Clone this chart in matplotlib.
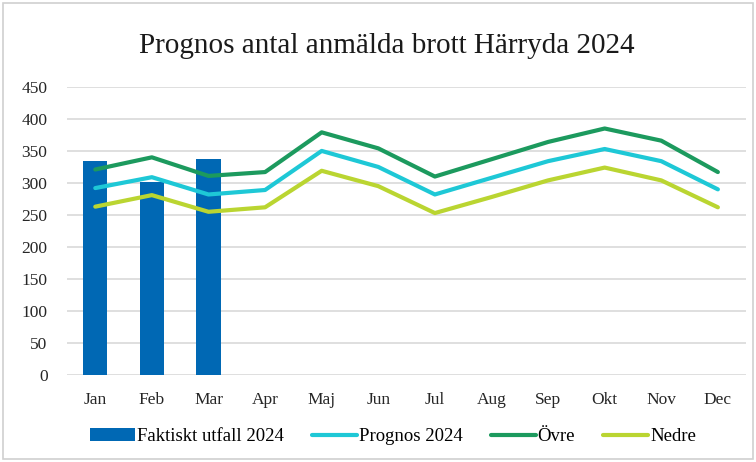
import numpy as np
import matplotlib.pyplot as plt
from matplotlib.patches import Rectangle

months = ['Jan', 'Feb', 'Mar', 'Apr', 'Maj', 'Jun', 'Jul', 'Aug', 'Sep', 'Okt', 'Nov', 'Dec']
utfall = [335, 302, 338]
prognos = [292, 309, 282, 289, 350, 325, 282, 308, 334, 353, 334, 290]
ovre = [321, 340, 311, 317, 379, 354, 310, 337, 364, 385, 366, 317]
nedre = [263, 281, 255, 262, 319, 295, 253, 278, 304, 324, 304, 262]

plt.rcParams['font.family'] = ['Liberation Serif', 'DejaVu Serif']

fig = plt.figure(figsize=(7.56, 4.62), dpi=100)
ax = fig.add_axes([0.0886, 0.188, 0.8984, 0.624])

x = np.arange(len(months))
b = ax.bar(x[:len(utfall)], utfall, width=0.43, color='#0068B4', label='Faktiskt utfall 2024', zorder=2)
l1, = ax.plot(x, prognos, color='#1EC8D6', lw=3, label='Prognos 2024', zorder=3, solid_capstyle='round')
l2, = ax.plot(x, ovre, color='#1C9A5E', lw=3, label='Övre', zorder=3, solid_capstyle='round')
l3, = ax.plot(x, nedre, color='#BAD531', lw=3, label='Nedre', zorder=3, solid_capstyle='round')

ax.set_xlim(-0.5, 11.5)
ax.set_ylim(0, 450)
ax.set_yticks(np.arange(0, 451, 50))
ax.set_xticks(x)
ax.set_xticklabels(months)
ax.tick_params(axis='both', length=0, labelsize=12.5, colors='#262626')
ax.tick_params(axis='x', pad=12)
ax.tick_params(axis='y', pad=14)
ax.grid(axis='y', color='#D9D9D9', lw=1.2, zorder=0)
for s in ax.spines.values():
    s.set_visible(False)

fig.text(0.512, 0.9, 'Prognos antal anmälda brott Härryda 2024', ha='center', va='center',
         fontsize=21, color='#1a1a1a')

fig.legend([b, l1, l2, l3], ['Faktiskt utfall 2024', 'Prognos 2024', 'Övre', 'Nedre'],
           loc='center', bbox_to_anchor=(0.52, 0.055), ncol=4, frameon=False,
           fontsize=13.5, handlelength=2.4, handletextpad=0.1, columnspacing=1.5)

fig.patches.append(Rectangle((0.004, 0.006), 0.992, 0.988, transform=fig.transFigure,
                             fill=False, edgecolor='#D0D0D0', lw=1.2))

fig.savefig('out.png', dpi=100)
